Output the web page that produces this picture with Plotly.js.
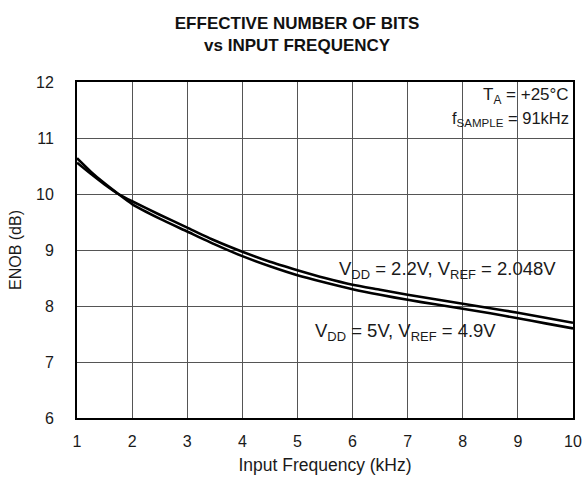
<!DOCTYPE html>
<html>
<head>
<meta charset="utf-8">
<script src="https://cdn.plot.ly/plotly-3.0.1.min.js"></script>
<style>html,body{margin:0;padding:0;background:#fff;}#chart{width:586px;height:481px;}</style>
</head>
<body>
<div id="chart"></div>
<script>
const freqKHz = [1, 1.25, 1.5, 1.75, 2, 2.5, 3, 3.5, 4, 4.5, 5, 5.5, 6, 6.5, 7, 7.5, 8, 8.5, 9, 9.5, 10];
const enob22V = [10.56, 10.36, 10.17, 10.0, 9.87, 9.63, 9.40, 9.17, 8.97, 8.79, 8.64, 8.50, 8.38, 8.29, 8.20, 8.12, 8.04, 7.96, 7.88, 7.79, 7.70];
const enob5V  = [10.64, 10.40, 10.19, 10.0, 9.82, 9.56, 9.33, 9.10, 8.89, 8.71, 8.55, 8.42, 8.30, 8.20, 8.11, 8.03, 7.95, 7.87, 7.78, 7.69, 7.60];
const xTicks = [1, 2, 3, 4, 5, 6, 7, 8, 9, 10];
const yTicks = [6, 7, 8, 9, 10, 11, 12];

const FONT = 'Liberation Sans, Arial, Helvetica, sans-serif';
const line = {color: '#000', width: 2.6, shape: 'spline', smoothing: 0.6};

const traces = [
  {x: freqKHz, y: enob22V, mode: 'lines', line: line, name: 'VDD = 2.2V', hoverinfo: 'skip'},
  {x: freqKHz, y: enob5V, mode: 'lines', line: line, name: 'VDD = 5V', hoverinfo: 'skip'}
];

const layout = {
  width: 586, height: 481,
  margin: {l: 77, r: 13, t: 82, b: 63},
  paper_bgcolor: '#fff', plot_bgcolor: '#fff',
  showlegend: false,
  font: {family: FONT, color: '#1a1a1a', size: 16},
  title: {
    text: '<b>EFFECTIVE NUMBER OF BITS<br>vs INPUT FREQUENCY</b>',
    font: {family: FONT, size: 17, color: '#111'},
    xref: 'container', yref: 'container',
    x: 0.507, xanchor: 'center', y: 0.94, yanchor: 'middle'
  },
  xaxis: {
    range: [1, 10], tickvals: xTicks, ticktext: xTicks.map(String),
    showgrid: true, gridcolor: '#555', gridwidth: 1,
    showline: true, linecolor: '#000', linewidth: 2, mirror: true,
    ticks: 'outside', ticklen: 8, tickcolor: 'rgba(0,0,0,0)',
    zeroline: false,
    tickfont: {size: 16},
    title: {text: 'Input Frequency (kHz)', font: {size: 17.5}, standoff: 10}
  },
  yaxis: {
    range: [6, 12], tickvals: yTicks, ticktext: yTicks.map(String),
    showgrid: true, gridcolor: '#555', gridwidth: 1,
    showline: true, linecolor: '#000', linewidth: 2, mirror: true,
    ticks: 'outside', ticklen: 18, tickcolor: 'rgba(0,0,0,0)',
    zeroline: false,
    tickfont: {size: 16},
    title: {text: 'ENOB (dB)', font: {size: 16}, standoff: 10}
  },
  annotations: [
    {xref: 'paper', yref: 'paper', x: 0.995, y: 0.997, xanchor: 'right', yanchor: 'top',
     text: 'T<sub>A</sub> = +25°C', showarrow: false, font: {size: 17}},
    {xref: 'paper', yref: 'paper', x: 0.995, y: 0.925, xanchor: 'right', yanchor: 'top',
     text: 'f<sub>SAMPLE</sub> = 91kHz', showarrow: false, font: {size: 16.5}},
    {xref: 'x', yref: 'y', x: 9.72, y: 8.64, xanchor: 'right', yanchor: 'middle',
     text: 'V<sub>DD</sub> = 2.2V, V<sub>REF</sub> = 2.048V', showarrow: false, font: {size: 18.5}},
    {xref: 'x', yref: 'y', x: 8.64, y: 7.54, xanchor: 'right', yanchor: 'middle',
     text: 'V<sub>DD</sub> = 5V, V<sub>REF</sub> = 4.9V', showarrow: false, font: {size: 18.5}}
  ]
};

Plotly.newPlot('chart', traces, layout, {staticPlot: true, displayModeBar: false});
</script>
</body>
</html>
